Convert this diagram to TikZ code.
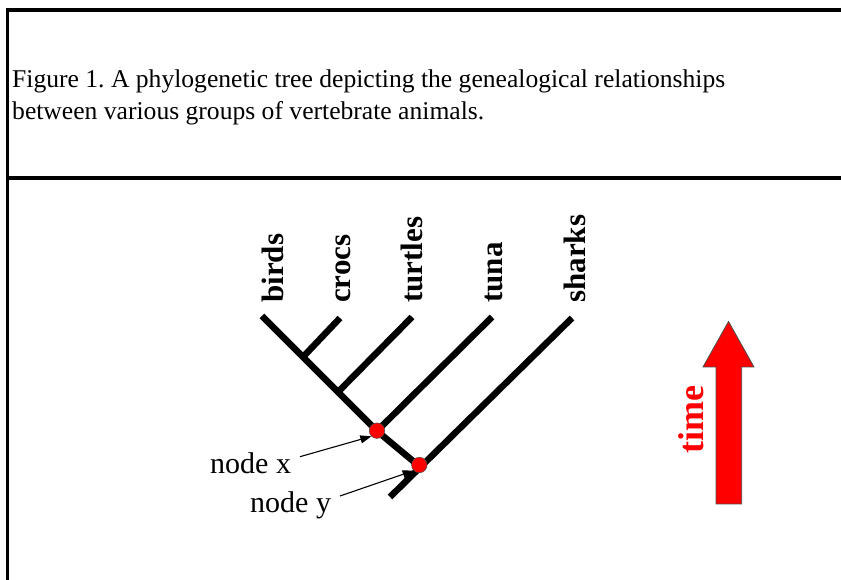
\documentclass[tikz,border=0pt]{standalone}
\usepackage{fontspec}
\setmainfont{Liberation Serif}
\usetikzlibrary{arrows.meta}
\begin{document}
\frenchspacing
\begin{tikzpicture}[x=1pt,y=1pt,
  frame/.style={line width=3.5pt},
  branch/.style={line width=6.5pt,line cap=butt},
  taxon/.style={rotate=90,anchor=base west,inner sep=0pt,font=\fontsize{31}{31}\selectfont\bfseries},
  caption/.style={anchor=base west,inner sep=0pt,font=\fontsize{25.6}{32}\selectfont},
  nodelabel/.style={anchor=base west,inner sep=0pt,font=\fontsize{30}{30}\selectfont},
  reddot/.style={circle,fill=red,draw=black!70,line width=0.5pt,minimum size=15.5pt,inner sep=0pt},
  pointer/.style={line width=1.1pt,-{Triangle[length=11pt,width=8pt]}}]
\useasboundingbox (0,0) rectangle (841,580);
% frame
\draw[frame] (7.5,0) -- (7.5,570) -- (841,570);
\draw[frame] (6,402) -- (841,402);
% caption
\node[caption] (cap1) at (12,492) {Figure 1. A phylogenetic tree depicting the genealogical relationships};
\node[caption] (cap2) at (12,460) {between various groups of vertebrate animals.};
% tree coordinates (y = 580 - image y)
\coordinate (B) at (262,264);
\coordinate (C) at (340,262);
\coordinate (T) at (412,263);
\coordinate (U) at (492,263);
\coordinate (S) at (572,262);
\coordinate (cj) at (303,223);
\coordinate (tj) at (338,188);
\coordinate (xj) at (377,149);
\coordinate (yj) at (419,114);
\coordinate (R) at (390,83);
% branches
\draw[branch] (B) -- (xj) -- (yj);
\draw[branch] (C) -- (cj);
\draw[branch] (T) -- (tj);
\draw[branch] (U) -- (xj);
\draw[branch] (S) -- (R);
% taxon labels
\node[taxon] (lb) at (283,277) {birds};
\node[taxon] (lc) at (350,277) {crocs};
\node[taxon] (lt) at (422,277) {turtles};
\node[taxon] (lu) at (502,277) {tuna};
\node[taxon] (ls) at (585,277) {sharks};
% red nodes
\node[reddot] (nx) at (377,149.3) {};
\node[reddot] (ny) at (419.3,115) {};
% node labels
\node[nodelabel] (tx) at (210,106) {node x};
\node[nodelabel] (ty) at (250,67) {node y};
\coordinate (ax) at (300,123.3);
\coordinate (ay) at (340,84);
\draw[pointer] (ax) -- (nx.south west);
\draw[pointer] (ay) -- (ny.south west);
% time arrow
\draw[fill=red,draw=black!70,line width=0.8pt]
  (716,76) -- (716,213) -- (703,213) -- (728.5,258.5) -- (754,213) -- (741.7,213) -- (741.7,76) -- cycle;
\node[taxon,text=red,font=\fontsize{36}{36}\selectfont\bfseries] (time) at (703,126) {time};
\end{tikzpicture}
\end{document}
